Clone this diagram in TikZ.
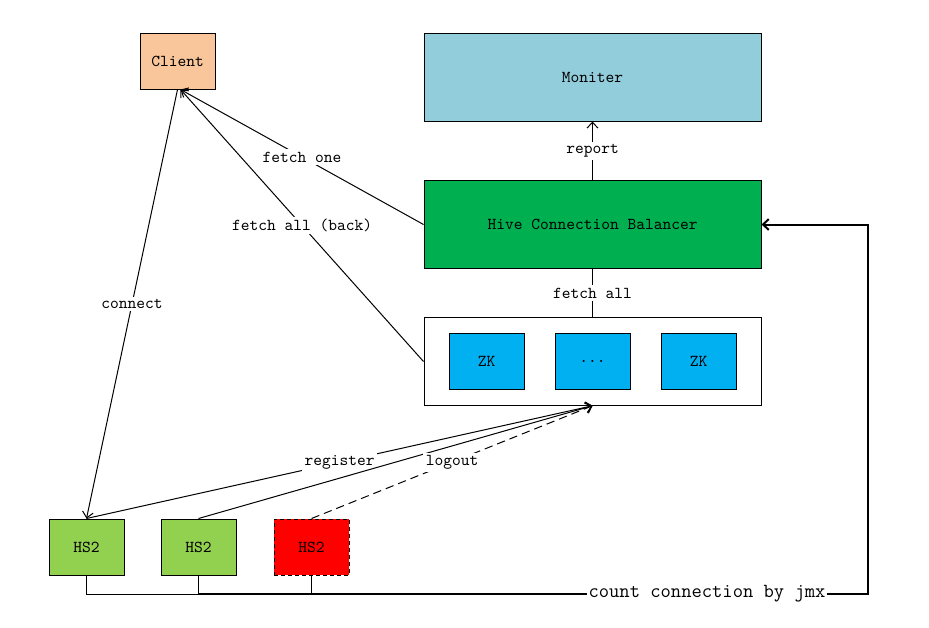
\documentclass[tikz,border=0pt]{standalone}
\usetikzlibrary{positioning}
\usetikzlibrary{arrows.meta,calc}
\definecolor{clientfill}{RGB}{249,198,155}
\definecolor{moniterfill}{RGB}{146,205,220}
\definecolor{balancerfill}{RGB}{0,176,80}
\definecolor{zkfill}{RGB}{0,176,240}
\definecolor{hsfill}{RGB}{146,208,80}

\begin{document}
\begin{tikzpicture}[x=0.6pt,y=-0.6pt,line width=0.6pt,
  box/.style={draw=black, minimum width=45pt, minimum height=33.6pt, inner sep=0pt, font=\ttfamily},
  wide/.style={draw=black, minimum width=202.2pt, minimum height=52.5pt, inner sep=0pt, font=\ttfamily},
  lbl/.style={fill=white, inner sep=1.5pt, font=\ttfamily},
  tip/.style={-{Straight Barb[length=3.5pt,width=6.5pt]}}]

\useasboundingbox (0,0) rectangle (929,627);

% top row
\node[box, fill=clientfill] (client) at (177.5,61) {Client};
\node[wide, fill=moniterfill, minimum height=52.8pt] (moniter) at (592.5,77) {Moniter};
\node[wide, fill=balancerfill] (balancer) at (592.5,224.5) {Hive Connection Balancer};

% zookeeper group
\node[wide, fill=white] (zkgroup) at (592.5,361.5) {};
\node[box, fill=zkfill] (zk1) at (486.5,361) {ZK};
\node[box, fill=zkfill] (zkdots) at (592.5,361) {...};
\node[box, fill=zkfill] (zk2) at (698.5,361) {ZK};

% hiveserver2 instances
\node[box, fill=hsfill] (hs1) at (86.5,547) {HS2};
\node[box, fill=hsfill] (hs2) at (198.5,547) {HS2};
\node[box, fill=red, dash pattern=on 2.4pt off 1.8pt] (hs3) at (311.5,547) {HS2};

\draw[tip] (balancer.north) -- (moniter.south) node[lbl, midway] {report};
\draw (zkgroup.north) -- (balancer.south) node[lbl, midway] {fetch all};
\draw[tip] (balancer.west) -- ($(client.south)+(3,0)$) node[lbl, midway] {fetch one};
\draw[tip] (zkgroup.west) -- ($(client.south)+(3,0)$) node[lbl, midway] {fetch all (back)};
\draw[tip, {Straight Barb[length=3.5pt,width=6.5pt]}-] (hs1.north) -- (client.south) node[lbl, midway] {connect};

\draw[tip] (hs1.north) -- (zkgroup.south) node[lbl, midway] {register};
\draw[tip] (hs2.north) -- (zkgroup.south);
\draw[tip, dash pattern=on 5pt off 3pt] (hs3.north) -- (zkgroup.south) node[lbl, midway] {logout};

% jmx feedback loop
\node[lbl, font=\ttfamily\large, inner sep=0.5pt] (jmx) at (707,594) {count connection by jmx};
\coordinate (jmxcorner) at (868,594);
\draw (hs1.south) |- (hs2.south |- jmx.west);
\draw[line width=0.9pt] (hs2.south |- jmx.west) -- (jmx.west);
\draw (hs2.south) -- (hs2.south |- jmx.west);
\draw (hs3.south) -- (hs3.south |- jmx.west);
\draw[tip, line width=1.2pt] (jmx.east) -- (jmxcorner) -- (jmxcorner |- balancer.east) -- (balancer.east);

\end{tikzpicture}
\end{document}
